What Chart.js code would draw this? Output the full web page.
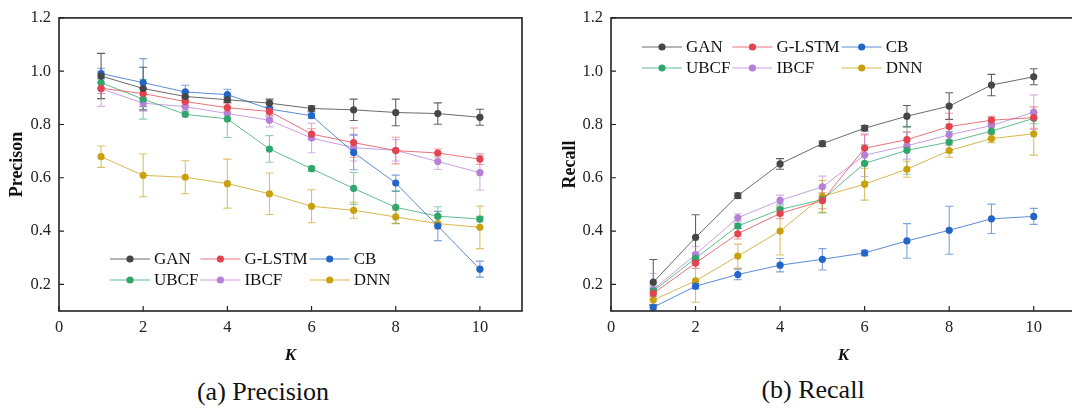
<!DOCTYPE html>
<html><head><meta charset="utf-8">
<script src="https://cdn.jsdelivr.net/npm/chart.js@4.4.0/dist/chart.umd.min.js"></script>
<style>
html,body{margin:0;padding:0;background:#fff;overflow:hidden;width:1072px;height:408px;}
#wrap{position:relative;width:1072px;height:408px;overflow:hidden;background:#fff;}
.box{position:absolute;top:0;height:370px;}
.cap{position:absolute;font-family:"Liberation Serif","Times New Roman",serif;font-size:26px;color:#111;white-space:nowrap;transform:translate(-50%,-50%);}
</style></head>
<body><div id="wrap">
<div class="box" style="left:0;width:536px"><canvas id="c1" width="536" height="370"></canvas></div>
<div class="box" style="left:536px;width:544px"><canvas id="c2" width="544" height="370"></canvas></div>
<div class="cap" style="left:263px;top:392px">(a) Precision</div>
<div class="cap" style="left:813px;top:390px">(b) Recall</div>
</div>
<script>
// ---- categories & ticks ----
const K = [1,2,3,4,5,6,7,8,9,10];
const seriesNames = ['GAN','G-LSTM','CB','UBCF','IBCF','DNN'];
const xTicks = [0,2,4,6,8,10];
const yTicks = [0.2,0.4,0.6,0.8,1.0,1.2];

// ---- Precision values ----
const precGAN   = [0.982,0.935,0.905,0.893,0.880,0.860,0.855,0.845,0.841,0.827];
const precGLSTM = [0.936,0.916,0.886,0.863,0.849,0.764,0.732,0.702,0.693,0.670];
const precCB    = [0.991,0.957,0.922,0.912,0.858,0.833,0.695,0.580,0.419,0.257];
const precUBCF  = [0.957,0.895,0.838,0.821,0.708,0.634,0.560,0.489,0.456,0.445];
const precIBCF  = [0.934,0.880,0.867,0.841,0.816,0.749,0.713,0.703,0.661,0.619];
const precDNN   = [0.679,0.609,0.602,0.578,0.540,0.493,0.478,0.453,0.428,0.414];
// ---- Precision error bars (±) ----
const precGANErr   = [0.085,0.080,0.015,0.010,0.015,0.010,0.040,0.050,0.040,0.030];
const precGLSTMErr = [0.020,0.020,0.015,0.015,0.015,0.020,0.055,0.050,0.015,0.020];
const precCBErr    = [0.020,0.090,0.025,0.020,0.030,0.010,0.065,0.030,0.055,0.030];
const precUBCFErr  = [0.020,0.075,0.010,0.070,0.050,0.010,0.060,0.060,0.035,0.010];
const precIBCFErr  = [0.066,0.030,0.015,0.020,0.025,0.055,0.050,0.040,0.030,0.065];
const precDNNErr   = [0.040,0.080,0.062,0.092,0.078,0.062,0.030,0.025,0.020,0.080];

// ---- Recall values ----
const recGAN   = [0.208,0.376,0.533,0.652,0.728,0.786,0.831,0.869,0.948,0.979];
const recGLSTM = [0.166,0.280,0.390,0.466,0.514,0.711,0.743,0.792,0.816,0.826];
const recCB    = [0.114,0.193,0.237,0.272,0.294,0.318,0.363,0.403,0.446,0.455];
const recUBCF  = [0.175,0.298,0.419,0.481,0.518,0.654,0.703,0.734,0.775,0.823];
const recIBCF  = [0.181,0.312,0.450,0.515,0.566,0.685,0.720,0.761,0.796,0.846];
const recDNN   = [0.141,0.213,0.306,0.400,0.530,0.576,0.632,0.702,0.747,0.765];
// ---- Recall error bars (±) ----
const recGANErr   = [0.085,0.085,0.010,0.020,0.010,0.010,0.040,0.050,0.040,0.030];
const recGLSTMErr = [0.020,0.020,0.020,0.020,0.030,0.050,0.030,0.050,0.015,0.040];
const recCBErr    = [0.010,0.010,0.020,0.025,0.040,0.010,0.065,0.090,0.055,0.030];
const recUBCFErr  = [0.020,0.020,0.010,0.020,0.050,0.070,0.090,0.040,0.030,0.020];
const recIBCFErr  = [0.060,0.030,0.015,0.020,0.040,0.080,0.050,0.040,0.030,0.065];
const recDNNErr   = [0.020,0.080,0.045,0.090,0.060,0.060,0.030,0.025,0.015,0.080];

const colors = ['#464646','#e2434f','#2466c8','#2fa66b','#b77fd6','#c9a012'];
const lineColors = ['rgba(70,70,70,0.8)','rgba(226,67,79,0.75)','rgba(36,102,200,0.75)','rgba(47,166,107,0.75)','rgba(183,127,214,0.75)','rgba(201,160,18,0.75)'];
const errColors = ['rgba(70,70,70,0.85)','rgba(226,67,79,0.55)','rgba(36,102,200,0.6)','rgba(47,166,107,0.55)','rgba(183,127,214,0.6)','rgba(201,160,18,0.65)'];

const SERIF = '"Liberation Serif","Times New Roman",serif';

function buildDatasets(vals, errs){
  return vals.map((v,i)=>({
    label: seriesNames[i],
    data: K.map((k,j)=>({x:k, y:v[j]})),
    errors: errs[i],
    errColor: errColors[i],
    borderColor: lineColors[i],
    backgroundColor: colors[i],
    pointBackgroundColor: colors[i],
    pointBorderColor: colors[i],
    pointRadius: 3.6,
    pointBorderWidth: 0,
    borderWidth: 1,
    tension: 0
  }));
}

function makePlugin(legendX, legendY, pitch){
  return {
    id:'custom',
    beforeDatasetsDraw(chart){
      const ctx=chart.ctx, xs=chart.scales.x, ys=chart.scales.y, a=chart.chartArea;
      ctx.save();
      ctx.beginPath(); ctx.rect(a.left,a.top,a.right-a.left,a.bottom-a.top); ctx.clip();
      chart.data.datasets.forEach(ds=>{
        ctx.strokeStyle=ds.errColor; ctx.lineWidth=1.1;
        ds.data.forEach((p,j)=>{
          const e=ds.errors[j]; if(!e) return;
          const px=xs.getPixelForValue(p.x);
          const y1=ys.getPixelForValue(p.y+e), y2=ys.getPixelForValue(p.y-e);
          ctx.beginPath();
          ctx.moveTo(px,y1); ctx.lineTo(px,y2);
          ctx.moveTo(px-4,y1); ctx.lineTo(px+4,y1);
          ctx.moveTo(px-4,y2); ctx.lineTo(px+4,y2);
          ctx.stroke();
        });
      });
      ctx.restore();
    },
    afterDraw(chart){
      const ctx=chart.ctx, xs=chart.scales.x, ys=chart.scales.y, a=chart.chartArea;
      ctx.save();
      // frame
      ctx.strokeStyle='#222'; ctx.lineWidth=1.6;
      ctx.strokeRect(a.left,a.top,a.right-a.left,a.bottom-a.top);
      // inward ticks
      ctx.lineWidth=1.2;
      ctx.beginPath();
      ys.ticks.forEach(t=>{const py=ys.getPixelForValue(t.value); ctx.moveTo(a.left,py); ctx.lineTo(a.left+5,py);});
      xs.ticks.forEach(t=>{const px=xs.getPixelForValue(t.value); ctx.moveTo(px,a.bottom); ctx.lineTo(px,a.bottom-5);});
      ctx.stroke();
      // legend
      ctx.font='17px '+SERIF;
      const ds=chart.data.datasets;
      const w=ds.map(d=>ctx.measureText(d.label).width);
      const colX=[legendX];
      for(let c=0;c<2;c++) colX.push(colX[c]+44+Math.max(w[c],w[c+3])+2);
      ds.forEach((d,i)=>{
        const x=colX[i%3], y=legendY+Math.floor(i/3)*pitch;
        ctx.strokeStyle=d.borderColor; ctx.lineWidth=1;
        ctx.beginPath(); ctx.moveTo(x,y); ctx.lineTo(x+40,y); ctx.stroke();
        ctx.fillStyle=d.pointBackgroundColor;
        ctx.beginPath(); ctx.arc(x+20,y,3.6,0,Math.PI*2); ctx.fill();
        ctx.fillStyle='#111'; ctx.textBaseline='middle'; ctx.textAlign='left';
        ctx.fillText(d.label,x+44,y+1);
      });
      ctx.restore();
    }
  };
}

function makeChart(id, vals, errs, yTitle, yW, padRight, yTitlePad, legendX, legendY){
  return new Chart(document.getElementById(id), {
    type:'line',
    data:{datasets: buildDatasets(vals, errs)},
    options:{
      responsive:false, animation:false, devicePixelRatio:1,
      layout:{padding:{left:0,top:15,right:padRight,bottom:0}},
      plugins:{legend:{display:false}, tooltip:{enabled:false}},
      scales:{
        x:{type:'linear', min:0, max:11,
          afterBuildTicks(s){ s.ticks = xTicks.map(v=>({value:v})); },
          afterFit(s){ s.height = 59; },
          grid:{display:false, drawTicks:false}, border:{display:false},
          ticks:{autoSkip:false, maxRotation:0, padding:7, color:'#222', font:{family:SERIF,size:16.5}, callback:v=>String(v)},
          title:{display:true, text:'K', color:'#111', padding:{top:0,bottom:4}, font:{family:SERIF,size:17,weight:'bold',style:'italic'}}
        },
        y:{type:'linear', min:0.1, max:1.2,
          afterBuildTicks(s){ s.ticks = yTicks.map(v=>({value:v})); },
          afterFit(s){ s.width = yW; },
          grid:{display:false, drawTicks:false}, border:{display:false},
          ticks:{autoSkip:false, padding:8, color:'#222', font:{family:SERIF,size:16.5}, callback:v=>Number(v).toFixed(1)},
          title:{display:true, text:yTitle, color:'#111', padding:{top:yTitlePad,bottom:0}, font:{family:SERIF,size:18,weight:'bold'}}
        }
      }
    },
    plugins:[makePlugin(legendX, legendY, 21)]
  });
}

makeChart('c1',
  [precGAN,precGLSTM,precCB,precUBCF,precIBCF,precDNN],
  [precGANErr,precGLSTMErr,precCBErr,precUBCFErr,precIBCFErr,precDNNErr],
  'Precison', 59, 14, 7, 110, 259);
makeChart('c2',
  [recGAN,recGLSTM,recCB,recUBCF,recIBCF,recDNN],
  [recGANErr,recGLSTMErr,recCBErr,recUBCFErr,recIBCFErr,recDNNErr],
  'Recall', 75, 4, 24, 106, 47);
</script>
</body></html>
